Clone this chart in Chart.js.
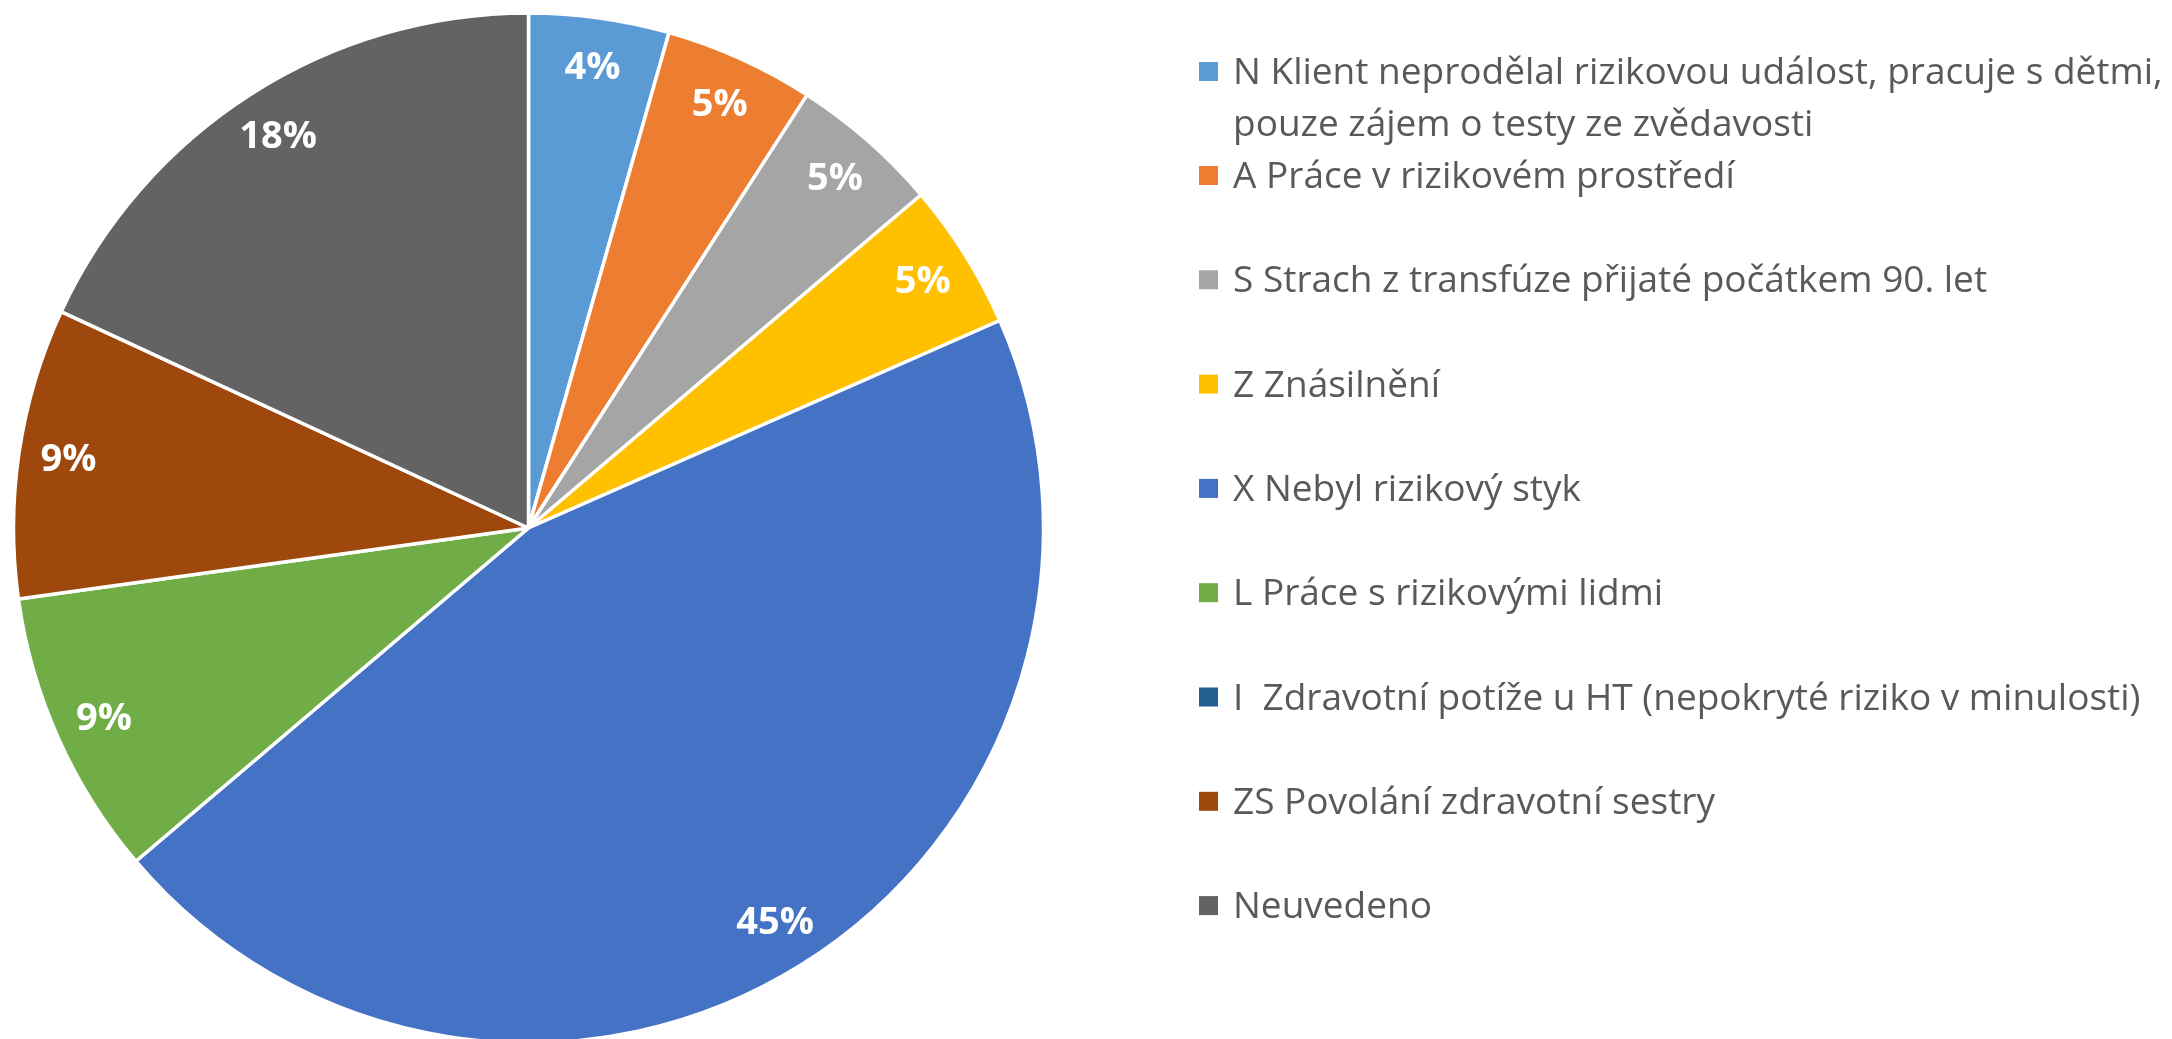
<!DOCTYPE html>
<html>
<head>
<meta charset="utf-8">
<title>Důvod testu</title>
<script src="https://cdn.jsdelivr.net/npm/chart.js@4/dist/chart.umd.min.js"></script>
<style>
  body { margin: 0; background: #ffffff; }
  #wrap { width: 2172px; height: 1039px; }
</style>
</head>
<body>
<div id="wrap"><canvas id="pieChart" width="2172" height="1039"></canvas></div>
<script>
//Data
////////////////////////////
const categories = [
  ['N Klient neprodělal rizikovou událost, pracuje s dětmi,', 'pouze zájem o testy ze zvědavosti'],
  'A Práce v rizikovém prostředí',
  'S Strach z transfúze přijaté počátkem 90. let',
  'Z Znásilnění',
  'X Nebyl rizikový styk',
  'L Práce s rizikovými lidmi',
  'I  Zdravotní potíže u HT (nepokryté riziko v minulosti)',
  'ZS Povolání zdravotní sestry',
  'Neuvedeno'
]
const shares = [4.4, 4.7, 4.7, 4.6, 45.4, 9.0, 0, 9.1, 18.1] // percent
const sliceColors = ['#5B9BD5', '#ED7D31', '#A5A5A5', '#FFC000', '#4472C4', '#70AD47', '#255E91', '#9E480E', '#636363']

const legendFont = '37px "Open Sans"'
const labelFont = 'bold 38px "Open Sans"'

//percent labels inside the slices
//////////////////////////////////
const sliceLabels = {
  id: 'sliceLabels',
  afterDatasetsDraw(chart) {
    let ctx = chart.ctx
    let meta = chart.getDatasetMeta(0)
    let values = chart.data.datasets[0].data
    ctx.save()
    ctx.font = labelFont
    ctx.fillStyle = '#ffffff'
    ctx.textAlign = 'center'
    ctx.textBaseline = 'middle'
    meta.data.forEach((arc, i) => {
      if (!values[i]) return
      let mid = (arc.startAngle + arc.endAngle) / 2
      let dist = arc.outerRadius - 50
      let x = arc.x + Math.cos(mid) * dist
      let y = arc.y + Math.sin(mid) * dist
      ctx.fillText(Math.round(values[i]) + '%', x, y + 1)
    })
    ctx.restore()
  }
}

//legend on the right, drawn by hand so the first entry can wrap
////////////////////////////////////////////////////////////////
const sideLegend = {
  id: 'sideLegend',
  afterDraw(chart) {
    let ctx = chart.ctx
    let labels = chart.data.labels
    let colors = chart.data.datasets[0].backgroundColor
    ctx.save()
    ctx.font = legendFont
    ctx.textAlign = 'left'
    ctx.textBaseline = 'alphabetic'
    labels.forEach((label, i) => {
      let baseline = i === 0 ? 84 : 188 + (i - 1) * 104.3
      ctx.fillStyle = colors[i]
      ctx.fillRect(1199, baseline - 22, 19, 19)
      ctx.fillStyle = '#595959'
      let lines = Array.isArray(label) ? label : [label]
      lines.forEach((line, j) => {
        ctx.fillText(line, 1233, baseline + j * 52)
      })
    })
    ctx.restore()
  }
}

let ctx = document.getElementById('pieChart').getContext('2d')
let chart = new Chart(ctx, {
  type: 'pie',
  data: {
    labels: categories,
    datasets: [{
      data: shares,
      backgroundColor: sliceColors,
      borderColor: '#ffffff',
      borderWidth: 3.5,
      radius: 515
    }]
  },
  options: {
    responsive: false,
    animation: false,
    events: [],
    layout: { padding: { left: 13, right: 1128, top: 17, bottom: 0 } },
    plugins: {
      legend: { display: false },
      tooltip: { enabled: false }
    }
  },
  plugins: [sliceLabels, sideLegend]
})
</script>
</body>
</html>
